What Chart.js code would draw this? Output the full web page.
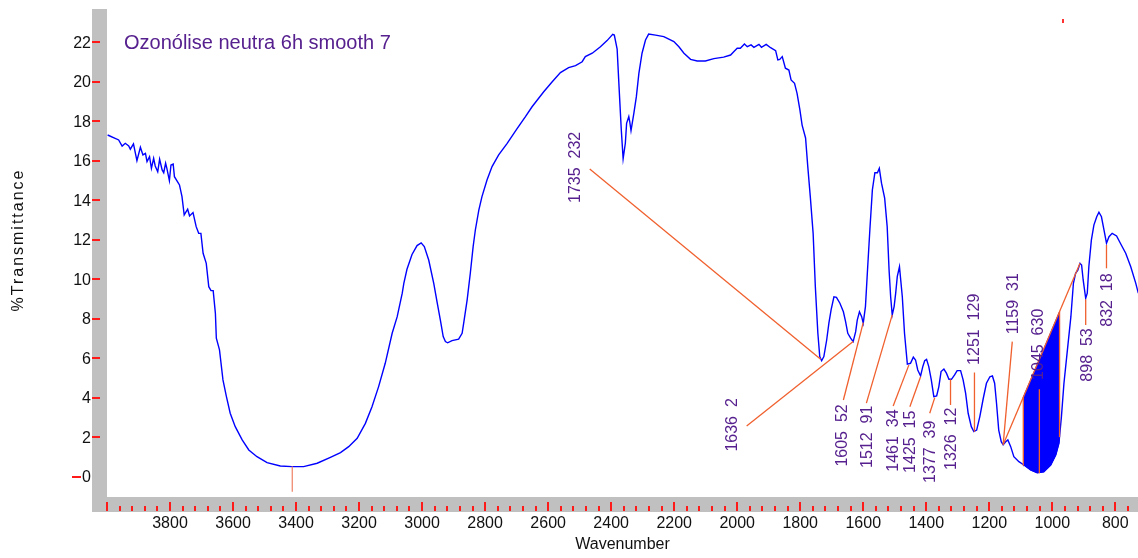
<!DOCTYPE html>
<html><head><meta charset="utf-8">
<script src="https://cdn.jsdelivr.net/npm/chart.js@4.4.0/dist/chart.umd.min.js"></script>
<style>html,body{margin:0;padding:0;background:#fff;}canvas{display:block;}</style>
</head><body>
<canvas id="c" width="1138" height="558"></canvas>
<script>
// ---- DATA ----
const wavenumbers = [3998,3963,3952,3942,3931,3926,3916,3905,3894,3886,3878,3873,3865,3859,3852,3847,3839,3833,3825,3820,3814,3810,3802,3797,3790,3786,3770,3762,3755,3744,3738,3727,3717,3709,3702,3695,3685,3677,3670,3663,3656,3653,3643,3632,3621,3609,3593,3571,3550,3524,3492,3450,3413,3376,3333,3291,3259,3233,3206,3180,3159,3138,3117,3095,3079,3063,3058,3048,3032,3016,3003,2993,2979,2963,2952,2942,2933,2926,2919,2905,2884,2873,2868,2857,2847,2838,2831,2820,2810,2794,2778,2757,2730,2698,2672,2651,2614,2587,2561,2535,2513,2492,2482,2460,2434,2413,2395,2390,2381,2375,2368,2362,2355,2351,2344,2341,2337,2328,2320,2312,2302,2291,2281,2259,2233,2201,2185,2169,2148,2127,2101,2074,2043,2021,2011,2000,1990,1977,1968,1956,1947,1931,1923,1908,1894,1878,1871,1865,1857,1847,1836,1829,1818,1810,1801,1794,1783,1776,1768,1759,1752,1744,1738,1732,1725,1716,1709,1702,1693,1685,1674,1663,1656,1649,1640,1632,1624,1619,1612,1605,1600,1593,1587,1579,1571,1563,1555,1549,1542,1532,1524,1518,1513,1508,1502,1497,1492,1485,1476,1469,1460,1450,1441,1434,1427,1418,1411,1405,1399,1392,1384,1376,1367,1360,1353,1344,1336,1328,1320,1310,1302,1291,1283,1275,1267,1257,1249,1240,1230,1219,1209,1198,1190,1183,1177,1170,1162,1156,1148,1141,1132,1122,1106,1090,1069,1048,1027,1005,989,979,971,963,952,941,933,926,919,912,907,902,894,889,884,876,868,859,852,844,836,828,820,810,796,781,767,751,735,727];
const transmittance = [17.30,17.05,16.74,16.88,16.74,16.58,16.85,16.00,16.68,16.29,16.37,15.95,16.20,15.61,16.12,15.73,15.44,16.07,15.53,15.39,15.87,15.61,14.99,15.78,15.83,15.19,14.77,14.18,13.25,13.54,13.20,13.37,12.66,12.32,12.32,11.31,10.80,9.62,9.42,9.42,8.27,7.01,6.42,4.90,4.05,3.21,2.53,1.86,1.35,1.01,0.71,0.54,0.51,0.51,0.68,0.98,1.22,1.52,1.94,2.70,3.54,4.56,5.74,7.26,8.10,9.29,9.79,10.50,11.25,11.70,11.84,11.65,10.97,9.79,8.80,7.93,7.09,6.84,6.78,6.89,6.96,7.26,7.77,8.95,10.30,11.65,12.49,13.50,14.18,15.02,15.70,16.29,16.88,17.64,18.23,18.73,19.49,20.00,20.46,20.71,20.81,21.01,21.27,21.44,21.77,22.08,22.40,22.36,21.65,19.75,17.60,16.10,16.88,17.89,18.23,17.97,17.52,18.40,19.24,20.42,21.44,22.11,22.41,22.36,22.28,22.03,21.77,21.44,21.13,21.05,21.05,21.17,21.24,21.35,21.52,21.69,21.69,21.91,21.77,21.86,21.74,21.89,21.74,21.89,21.72,21.57,21.10,21.13,21.27,20.68,20.59,20.09,19.92,19.41,18.57,17.80,17.15,15.70,14.18,12.32,9.62,7.26,6.08,5.87,6.08,6.92,7.77,8.44,9.11,9.08,8.78,8.35,7.85,7.26,7.01,6.84,7.34,7.93,8.35,8.10,7.77,8.61,10.30,12.49,14.52,15.39,15.39,15.61,14.86,14.10,12.66,10.46,9.11,8.19,8.61,9.29,10.13,10.63,9.11,7.26,5.70,5.74,6.05,5.91,5.40,5.10,5.57,5.87,5.94,5.57,4.90,4.05,4.09,4.56,5.32,5.45,5.24,4.93,4.93,5.15,5.37,5.37,4.90,4.22,3.21,2.53,2.28,2.36,3.04,3.97,4.73,5.06,5.10,4.73,3.72,2.36,1.77,1.61,1.77,1.86,1.52,1.01,0.76,0.59,0.34,0.20,0.25,0.59,1.10,1.69,3.04,4.73,6.42,8.10,9.79,10.30,10.46,10.80,10.72,9.96,9.03,9.29,10.63,11.98,12.74,13.16,13.39,13.16,12.49,11.82,12.15,12.32,12.19,11.73,11.31,10.63,9.79,9.29];

const peakWavenumbers = [1735,1636,1605,1512,1461,1425,1377,1326,1251,1159,1045,898,832];
const peakValues      = [232,2,52,91,34,15,39,12,129,31,630,53,18];
// label anchor (text start) in data units: wavenumber, %T
const labelWn  = [2513,2016,1667,1587,1503,1450,1386,1321,1247,1124,1042,889,824];
const labelT   = [13.86,1.27,0.51,0.44,0.25,0.19,-0.32,0.34,5.66,7.21,4.90,4.81,7.59];
// leader lines (start near label -> end at band) in data units
const leadFromWn = [2468,1970,1663,1590,1505,1452,1389,1323,1247,1127,1041,894,828];
const leadFromT  = [15.58,2.57,3.88,3.72,3.58,3.54,3.21,3.63,5.27,6.84,4.43,7.68,10.55];
const leadToWn   = [1735,1632,1600,1508,1455,1418,1373,1323,1247,1156,1041,894,828];
const leadToT    = [5.94,6.84,7.80,8.19,5.66,5.06,4.00,4.93,2.28,1.61,0.17,8.98,11.73];
// integration baseline and region edges (wavenumber, lower %T, upper %T)
const baselineWn = [1156,912];
const baselineT  = [1.61,10.80];
const regionWn   = [1092,977];
const regionLow  = [0.55,2.00];
const regionHigh = [4.02,8.35];
// marker at 3412
const markWn = [3412,3412];
const markT  = [0.51,-0.76];

const yTicks = [0,2,4,6,8,10,12,14,16,18,20,22];
const xTickLabels = [3800,3600,3400,3200,3000,2800,2600,2400,2200,2000,1800,1600,1400,1200,1000,800];
const title = 'Ozonólise neutra 6h smooth 7';

// ---- BUILD ----
const FONT = '"Liberation Sans", Arial, sans-serif';
const PURPLE = '#56208e';
const ORANGE = '#f0602e';
const spectrum = wavenumbers.map((w,i)=>({x:w,y:transmittance[i]}));

const poly = [{x:regionWn[0], y:regionLow[0]}];
wavenumbers.forEach((w,i)=>{ if (w < regionWn[0] && w > regionWn[1]) poly.push({x:w,y:transmittance[i]}); });
poly.push({x:regionWn[1], y:regionLow[1]});
poly.push({x:regionWn[1], y:regionHigh[1]});
poly.push({x:regionWn[0], y:regionHigh[0]});

const lineDs = (pts, color, width) => ({data:pts, borderColor:color, borderWidth:width, pointRadius:0, showLine:true, fill:false, order:1});

const datasets = [
  {data:poly, showLine:true, fill:'shape', backgroundColor:'#0000ff', borderColor:'#0000ff', borderWidth:1, pointRadius:0, order:5},
  {data:spectrum, showLine:true, borderColor:'#0000ff', borderWidth:1.4, pointRadius:0, fill:false, order:4},
  lineDs(baselineWn.map((w,i)=>({x:w,y:baselineT[i]})), ORANGE, 1.3),
  lineDs([{x:regionWn[0],y:regionLow[0]},{x:regionWn[0],y:regionHigh[0]}], ORANGE, 1.3),
  lineDs([{x:regionWn[1],y:regionLow[1]},{x:regionWn[1],y:regionHigh[1]}], ORANGE, 1.3),
  lineDs(markWn.map((w,i)=>({x:w,y:markT[i]})), '#f08a70', 1.3)
];
peakWavenumbers.forEach((p,i)=>{
  datasets.push(lineDs([{x:leadFromWn[i],y:leadFromT[i]},{x:leadToWn[i],y:leadToT[i]}], ORANGE, 1.3));
});

const deco = {
  id:'deco',
  beforeDatasetsDraw(chart){
    const ctx = chart.ctx, xs = chart.scales.x, ys = chart.scales.y, ca = chart.chartArea;
    ctx.save();
    ctx.fillStyle = '#c0c0c0';
    ctx.fillRect(92, ca.top, ca.left-92, ca.bottom + 15 - ca.top);
    ctx.fillRect(92, ca.bottom, ca.right-92, 15);
    ctx.fillStyle = '#ff1a1a';
    yTicks.forEach(v=>{
      const py = Math.round(ys.getPixelForValue(v));
      if (v === 0) ctx.fillRect(72, py-1, 9, 2); else ctx.fillRect(92, py-1, 8, 2);
    });
    for (let w = 4000; w >= xs.min; w -= 40) {
      const px = Math.round(xs.getPixelForValue(w));
      const major = (w % 200 === 0);
      ctx.fillRect(px-1, major ? ca.bottom+5 : ca.bottom+9, 2, major ? 9 : 5);
    }
    ctx.fillStyle = '#111';
    ctx.font = '16px ' + FONT;
    ctx.textAlign = 'right'; ctx.textBaseline = 'middle';
    yTicks.forEach(v=> ctx.fillText(String(v), 91, ys.getPixelForValue(v)+1));
    ctx.textAlign = 'center';
    xTickLabels.forEach(w=> ctx.fillText(String(w), xs.getPixelForValue(w), ca.bottom+27));
    ctx.fillText('Wavenumber', (ca.left+ca.right)/2, ca.bottom+48);
    ctx.save();
    ctx.translate(19, 240); ctx.rotate(-Math.PI/2);
    ctx.letterSpacing = '2px';
    ctx.fillText('%Transmittance', 0, 0);
    ctx.letterSpacing = '0px';
    ctx.restore();
    ctx.fillStyle = PURPLE;
    ctx.font = '20px ' + FONT;
    ctx.textAlign = 'left';
    ctx.fillText(title, 124, 43);
    ctx.fillStyle = '#ff3030';
    ctx.fillRect(Math.round(xs.getPixelForValue(965))-1, Math.round(ys.getPixelForValue(23.17)), 2, 4);
    ctx.restore();
  },
  afterDatasetsDraw(chart){
    const ctx = chart.ctx, xs = chart.scales.x, ys = chart.scales.y;
    ctx.save();
    ctx.fillStyle = PURPLE;
    ctx.font = '16px ' + FONT;
    ctx.textAlign = 'left'; ctx.textBaseline = 'middle';
    peakWavenumbers.forEach((p,i)=>{
      ctx.save();
      ctx.translate(xs.getPixelForValue(labelWn[i]), ys.getPixelForValue(labelT[i]));
      ctx.rotate(-Math.PI/2);
      ctx.fillText(p + '  ' + peakValues[i], 0, 0);
      ctx.restore();
    });
    ctx.restore();
  }
};

new Chart(document.getElementById('c'), {
  type:'scatter',
  data:{datasets},
  options:{
    responsive:false, animation:false, devicePixelRatio:1,
    layout:{padding:{left:107, right:0, top:9, bottom:61}},
    plugins:{legend:{display:false}, tooltip:{enabled:false}},
    scales:{
      x:{type:'linear', reverse:true, min:728, max:4000, display:false},
      y:{type:'linear', min:-1.03, max:23.68, display:false}
    },
    elements:{line:{tension:0}}
  },
  plugins:[deco]
});
</script>
</body></html>
